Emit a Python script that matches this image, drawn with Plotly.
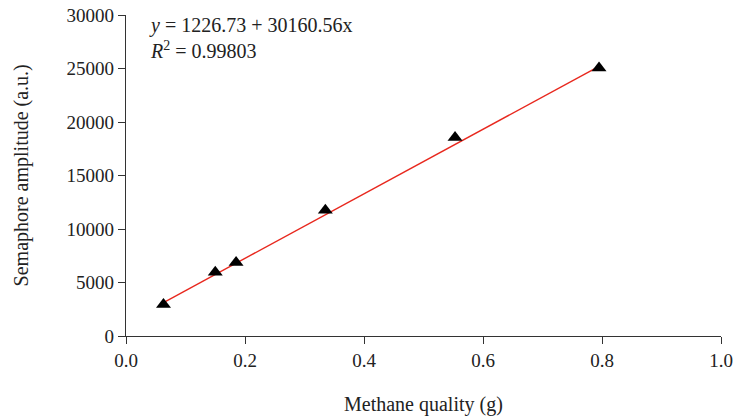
import plotly.graph_objects as go

mass = [0.063, 0.150, 0.185, 0.335, 0.553, 0.795]
amplitude = [2950, 5950, 6880, 11750, 18550, 25050]
intercept = 1226.73
slope = 30160.56
fit_x = [min(mass), max(mass)]
fit_y = [intercept + slope * v for v in fit_x]

FONT = "Liberation Serif"

fig = go.Figure()
fig.add_trace(go.Scatter(x=fit_x, y=fit_y, mode="lines",
                         line=dict(color="#e8281e", width=1.4), showlegend=False))
fig.add_trace(go.Scatter(x=mass, y=amplitude, mode="markers",
                         marker=dict(symbol="triangle-up", size=13, color="black"),
                         showlegend=False))

fig.update_layout(
    width=735, height=417,
    margin=dict(l=126, r=14, t=15, b=81),
    paper_bgcolor="white", plot_bgcolor="white",
    font=dict(family=FONT, size=19, color="#222"),
    xaxis=dict(range=[0, 1.0], tickvals=[0, 0.2, 0.4, 0.6, 0.8, 1.0],
               ticktext=["0.0", "0.2", "0.4", "0.6", "0.8", "1.0"], automargin=False,
               showline=True, linecolor="#333", linewidth=1.3,
               ticks="outside", ticklen=7, tickcolor="#333", showgrid=False, zeroline=False),
    yaxis=dict(range=[0, 30000], tickvals=[0, 5000, 10000, 15000, 20000, 25000, 30000],
               ticktext=["0", "5000", "10000", "15000", "20000", "25000", "30000"], automargin=False,
               showline=True, linecolor="#333", linewidth=1.3,
               ticks="outside", ticklen=7, tickcolor="#333", showgrid=False, zeroline=False),
    annotations=[
        dict(x=0.035, y=1.01, xref="paper", yref="paper", xanchor="left", yanchor="top",
             showarrow=False, align="left", font=dict(size=20, family=FONT),
             text="<i>y</i> = 1226.73 + 30160.56x<br><i>R</i><sup>2</sup> = 0.99803"),
        dict(x=0.5, y=-0.212, xref="paper", yref="paper", xanchor="center", yanchor="middle",
             showarrow=False, font=dict(size=20, family=FONT), text="Methane quality (g)"),
        dict(x=-0.175, y=0.5, xref="paper", yref="paper", xanchor="center", yanchor="middle",
             showarrow=False, textangle=-90, font=dict(size=20, family=FONT),
             text="Semaphore amplitude (a.u.)"),
    ],
)
fig.write_html("out.html")
